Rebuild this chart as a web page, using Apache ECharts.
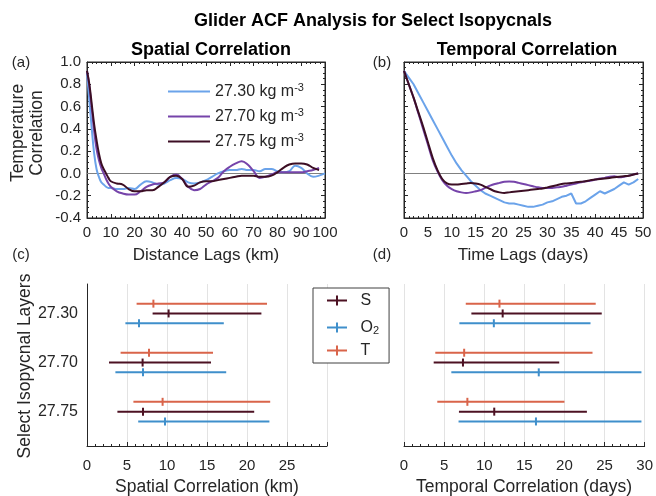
<!DOCTYPE html>
<html>
<head>
<meta charset="utf-8">
<script src="https://cdn.jsdelivr.net/npm/echarts@6/dist/echarts.min.js"></script>
<style>
  html, body { margin: 0; padding: 0; background: #fff; }
  #mybox { width: 656px; height: 496px; }
</style>
</head>
<body>
<div id="mybox"></div>
<script>
// isopycnal layers (legend names / category labels)
var layers = ['27.30', '27.70', '27.75'];

// (a) spatial lags in km
var lagKm = [0,1,2,3,4,5,6,7,8,9,10,12.5,15,17.5,20,22.5,25,27.5,30,32.5,35,37.5,40,42.5,45,47.5,50,52.5,55,57.5,60,62.5,65,67.5,70,72.5,75,77.5,80,82.5,85,87.5,90,92.5,95,97.5,100];
var spatial2730 = [0.90,0.65,0.40,0.18,0.04,-0.03,-0.08,-0.10,-0.12,-0.13,-0.13,-0.14,-0.14,-0.13,-0.14,-0.10,-0.07,-0.08,-0.10,-0.09,-0.06,-0.04,-0.05,-0.08,-0.09,-0.08,-0.06,-0.03,0.00,0.02,0.03,0.03,0.04,0.03,0.03,0.02,0.04,0.04,0.02,0.01,0.02,0.07,0.05,0.00,-0.03,-0.02,0.00];
var spatial2770 = [0.92,0.78,0.58,0.38,0.22,0.12,0.05,0.00,-0.05,-0.09,-0.12,-0.16,-0.18,-0.19,-0.19,-0.16,-0.12,-0.10,-0.09,-0.08,-0.03,-0.01,-0.05,-0.12,-0.15,-0.14,-0.10,-0.07,-0.04,0.02,0.06,0.09,0.11,0.08,0.02,-0.04,-0.03,-0.01,0.01,0.01,0.01,0.01,0.01,0.02,0.03,0.05,null];
var spatial2775 = [0.92,0.80,0.62,0.44,0.30,0.18,0.09,0.04,0.00,-0.04,-0.07,-0.09,-0.10,-0.14,-0.16,-0.16,-0.15,-0.15,-0.12,-0.08,-0.03,-0.02,-0.05,-0.12,-0.11,-0.08,-0.07,-0.07,-0.06,-0.05,-0.04,-0.03,-0.02,-0.02,-0.02,-0.03,-0.03,-0.02,0.01,0.05,0.08,0.09,0.09,0.08,0.05,0.03,null];

// (b) temporal lags in days
var lagDays = [0,1,2,3,4,5,6,7,8,9,10,11,12,13,14,15,16,17,18,19,20,21,22,23,24,25,26,27,28,29,30,31,32,33,34,35,36,37,38,39,40,41,42,43,44,45,46,47,48,49];
var temporal2730 = [0.92,0.86,0.80,0.72,0.64,0.56,0.48,0.40,0.32,0.24,0.16,0.09,0.03,-0.02,-0.07,-0.11,-0.15,-0.18,-0.20,-0.22,-0.24,-0.26,-0.27,-0.27,-0.28,-0.29,-0.30,-0.30,-0.29,-0.28,-0.26,-0.25,-0.23,-0.21,-0.20,-0.18,-0.27,-0.27,-0.25,-0.22,-0.19,-0.16,-0.18,-0.16,-0.14,-0.11,-0.08,-0.10,-0.08,-0.05];
var temporal2770 = [0.92,0.80,0.68,0.54,0.40,0.26,0.12,0.02,-0.06,-0.11,-0.14,-0.16,-0.17,-0.175,-0.17,-0.16,-0.15,-0.13,-0.11,-0.095,-0.085,-0.075,-0.072,-0.075,-0.085,-0.095,-0.105,-0.115,-0.125,-0.13,-0.13,-0.13,-0.125,-0.12,-0.11,-0.10,-0.09,-0.08,-0.07,-0.065,-0.055,-0.045,-0.04,-0.03,-0.025,-0.035,-0.03,-0.02,-0.01,0.0];
var temporal2775 = [0.92,0.80,0.68,0.55,0.42,0.28,0.14,0.03,-0.05,-0.09,-0.10,-0.10,-0.095,-0.09,-0.085,-0.09,-0.10,-0.12,-0.14,-0.16,-0.17,-0.175,-0.17,-0.165,-0.16,-0.155,-0.15,-0.145,-0.14,-0.135,-0.125,-0.115,-0.105,-0.095,-0.09,-0.085,-0.08,-0.075,-0.07,-0.06,-0.055,-0.05,-0.045,-0.04,-0.035,-0.03,-0.025,-0.02,-0.01,0.0];

// (c),(d) correlation scales: [low, value, high] per layer
var spatialT  = [[6.2, 8.3, 22.5], [4.2, 7.75, 15.75], [5.8, 9.45, 22.9]];
var spatialS  = [[8.2, 10.2, 21.8], [2.75, 6.95, 15.5], [3.8, 7.0, 20.9]];
var spatialO2 = [[4.8, 6.5, 17.1], [3.55, 7.0, 17.4], [6.4, 9.75, 22.8]];
var temporalT  = [[7.7, 11.9, 23.9], [3.9, 7.5, 23.5], [4.15, 7.9, 20.0]];
var temporalS  = [[8.4, 12.3, 24.65], [3.7, 7.35, 19.35], [6.85, 11.25, 22.8]];
var temporalO2 = [[6.9, 11.2, 23.25], [5.9, 16.8, 29.6], [6.8, 16.45, 29.6]];

var FONT = 'Liberation Sans, Arial, Helvetica, sans-serif';
var TXT = '#262626';
var lineColors = ['#6ba3ea', '#7644aa', '#3c0e24'];
var barColors = { S: '#4c1122', O2: '#3f8fcb', T: '#d9644a' };

function pairs(xs, ys) {
    return xs.map(function (x, i) { return [x, ys[i]]; });
}
// rows for error bar series, stacked around the layer position
function barRows(arr, offset) {
    return arr.map(function (r, i) { return [r[0], r[1], r[2], i + 1 + offset]; });
}
function renderBar(params, api) {
    var y = api.value(3);
    var lo = api.coord([api.value(0), y]);
    var mid = api.coord([api.value(1), y]);
    var hi = api.coord([api.value(2), y]);
    var st = { stroke: api.visual('color'), lineWidth: 2 };
    return {
        type: 'group',
        children: [
            { type: 'line', shape: { x1: lo[0], y1: lo[1], x2: hi[0], y2: hi[1] }, style: st },
            { type: 'line', shape: { x1: mid[0], y1: mid[1] - 4, x2: mid[0], y2: mid[1] + 4 }, style: st }
        ]
    };
}

// box axes for the top panels
function boxX(grid, max, interval, pos, labels) {
    return {
        type: 'value', gridIndex: grid, position: pos, min: 0, max: max, interval: interval,
        axisLine: { show: true, onZero: false, lineStyle: { color: TXT, width: 1 } },
        axisTick: { show: true, inside: true, length: 4, lineStyle: { color: TXT } },
        minorTick: { show: true, splitNumber: 5, length: 2, lineStyle: { color: TXT } },
        axisLabel: { show: labels, color: TXT, fontSize: 15, fontFamily: FONT, margin: 7 },
        splitLine: { show: false }
    };
}
function boxY(grid, pos, labels) {
    return {
        type: 'value', gridIndex: grid, position: pos, min: -0.4, max: 1, interval: 0.2,
        axisLine: { show: true, onZero: false, lineStyle: { color: TXT, width: 1 } },
        axisTick: { show: true, inside: true, length: 4, lineStyle: { color: TXT } },
        minorTick: { show: true, splitNumber: 4, length: 2, lineStyle: { color: TXT } },
        axisLabel: { show: labels, color: TXT, fontSize: 15, fontFamily: FONT, margin: 6,
            formatter: function (v) { return v.toFixed(1); } },
        splitLine: { show: false }
    };
}
function barX(grid, showMax) {
    return {
        type: 'value', gridIndex: grid, min: 0, max: 30, interval: 5,
        axisLine: { show: true, onZero: false, lineStyle: { color: TXT, width: 1 } },
        axisTick: { show: true, inside: true, length: 4, lineStyle: { color: TXT } },
        minorTick: { show: true, splitNumber: 5, length: 2, lineStyle: { color: TXT } },
        axisLabel: { color: TXT, fontSize: 15, fontFamily: FONT, margin: 12, showMaxLabel: showMax },
        splitLine: { show: true, showMinLine: showMax, lineStyle: { color: '#e3e3e3', width: 1 } }
    };
}
function barY(grid, labels) {
    return {
        type: 'value', gridIndex: grid, min: 0.4, max: 3.7, inverse: true,
        axisLine: { show: labels, onZero: false, lineStyle: { color: TXT, width: 1 } },
        axisTick: { show: false },
        axisLabel: { show: labels, color: TXT, fontSize: 16, fontFamily: FONT, margin: 9,
            customValues: [1, 2, 3],
            formatter: function (v) { return layers[Math.round(v) - 1]; } },
        splitLine: { show: false }
    };
}

function acfSeries(name, xs, ys, color, xi, yi, smooth, zero) {
    var s = {
        name: name, type: 'line', xAxisIndex: xi, yAxisIndex: yi,
        data: pairs(xs, ys), showSymbol: false, smooth: smooth, z: 3,
        lineStyle: { color: color, width: 2 }, itemStyle: { color: color }
    };
    if (zero) {
        s.markLine = {
            silent: true, symbol: 'none', z: 1,
            lineStyle: { color: '#808080', width: 1, type: 'solid' },
            label: { show: false },
            data: [{ yAxis: 0 }]
        };
    }
    return s;
}
function barSeries(name, arr, offset, xi, yi) {
    return {
        name: name, type: 'custom', xAxisIndex: xi, yAxisIndex: yi,
        renderItem: renderBar, data: barRows(arr, offset),
        encode: { x: [0, 1, 2], y: 3 },
        itemStyle: { color: barColors[name] }
    };
}

function txt(s, x, y, size, bold, rot) {
    return {
        type: 'text', x: x, y: y, rotation: rot || 0,
        style: { text: s, fill: bold ? '#000' : TXT, fontSize: size, fontFamily: FONT,
            fontWeight: bold ? 'bold' : 'normal', align: 'center', verticalAlign: 'middle', lineHeight: 19 }
    };
}

var mycharts = echarts.init(document.getElementById('mybox'));

var optionObj = {
    animation: false,
    backgroundColor: '#fff',
    textStyle: { fontFamily: FONT },
    grid: [
        // box round the ACF panels
        { left: 87, top: 62, width: 238, height: 156, show: true, borderColor: TXT, borderWidth: 1, backgroundColor: 'transparent' },
        { left: 404, top: 62, width: 239, height: 156, show: true, borderColor: TXT, borderWidth: 1, backgroundColor: 'transparent' },
        { left: 87, top: 284, width: 240, height: 162 },
        { left: 404, top: 284, width: 241, height: 162 }
    ],
    xAxis: [
        boxX(0, 100, 10, 'bottom', true),
        boxX(0, 100, 10, 'top', false),
        boxX(1, 50, 5, 'bottom', true),
        boxX(1, 50, 5, 'top', false),
        barX(2, false),
        barX(3, true)
    ],
    yAxis: [
        boxY(0, 'left', true),
        boxY(0, 'right', false),
        boxY(1, 'left', false),
        boxY(1, 'right', false),
        barY(2, true),
        barY(3, false)
    ],
    legend: [
        {
            data: layers, orient: 'vertical', left: 168, top: 82, padding: 0,
            icon: 'rect', itemWidth: 42, itemHeight: 2, itemGap: 6,
            textStyle: { color: TXT, fontSize: 16, fontFamily: FONT, lineHeight: 19,
                rich: { sup: { fontSize: 11, lineHeight: 11, verticalAlign: 'top', fontFamily: FONT, color: TXT } } },
            formatter: function (name) { return name + ' kg m{sup|-3}'; }
        },
        {
            data: ['S', 'O2', 'T'], orient: 'vertical', left: 313, top: 288,
            padding: [4, 10, 4, 14], itemWidth: 23, itemHeight: 10, itemGap: 6,
            icon: 'path://M0,4h20v2h-20z M9,0h2v10h-2z',
            borderColor: '#404040', borderWidth: 1, backgroundColor: '#fff',
            textStyle: { color: TXT, fontSize: 16, fontFamily: FONT, lineHeight: 17, padding: [0, 0, 0, 7],
                rich: { sub: { fontSize: 11, lineHeight: 11, verticalAlign: 'bottom', fontFamily: FONT, color: TXT, padding: [10, 0, 0, 0] } } },
            formatter: function (name) { return name === 'O2' ? 'O{sub|2}' : name; }
        }
    ],
    graphic: [
        txt('Glider ACF Analysis for Select Isopycnals', 373, 21, 18, true),
        txt('Spatial Correlation', 211, 50, 18, true),
        txt('Temporal Correlation', 527, 50, 18, true),
        txt('(a)', 21, 63, 15),
        txt('(b)', 382, 63, 15),
        txt('(c)', 21, 255, 15),
        txt('(d)', 382, 255, 15),
        txt('Temperature\nCorrelation', 28, 133, 17.5, false, Math.PI / 2),
        txt('Distance Lags (km)', 206, 255, 17),
        txt('Time Lags (days)', 523, 255, 17),
        txt('Select Isopycnal Layers', 25, 366, 17.5, false, Math.PI / 2),
        txt('Spatial Correlation (km)', 207, 487, 17.5),
        txt('Temporal Correlation (days)', 524, 487, 17.5)
    ],
    series: [
        acfSeries(layers[0], lagKm, spatial2730, lineColors[0], 0, 0, 0.4, true),
        acfSeries(layers[1], lagKm, spatial2770, lineColors[1], 0, 0, 0.4),
        acfSeries(layers[2], lagKm, spatial2775, lineColors[2], 0, 0, 0.4),
        acfSeries(layers[0], lagDays, temporal2730, lineColors[0], 2, 2, false, true),
        acfSeries(layers[1], lagDays, temporal2770, lineColors[1], 2, 2, 0.3),
        acfSeries(layers[2], lagDays, temporal2775, lineColors[2], 2, 2, 0.3),
        barSeries('T', spatialT, -0.2, 4, 4),
        barSeries('S', spatialS, 0, 4, 4),
        barSeries('O2', spatialO2, 0.2, 4, 4),
        barSeries('T', temporalT, -0.2, 5, 5),
        barSeries('S', temporalS, 0, 5, 5),
        barSeries('O2', temporalO2, 0.2, 5, 5)
    ]
};

mycharts.setOption(optionObj);
</script>
</body>
</html>
